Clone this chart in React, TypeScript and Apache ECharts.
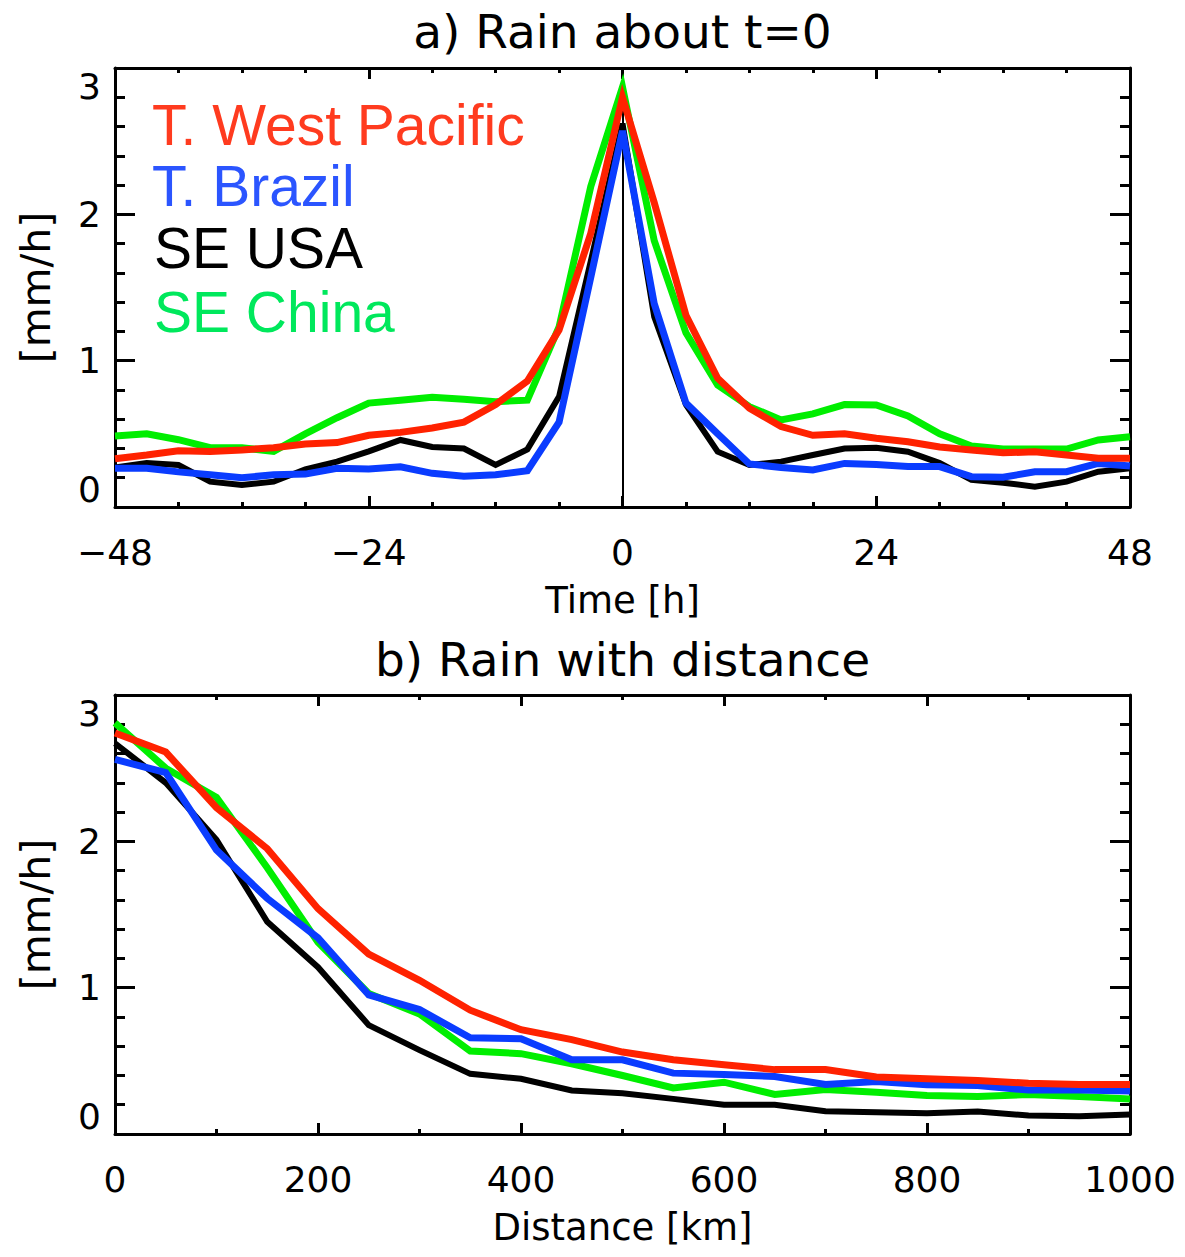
import React, { useEffect, useRef } from "react";
import * as echarts from "echarts";

// ---------- data ----------
const HOURS = [-48, -45, -42, -39, -36, -33, -30, -27, -24, -21, -18, -15, -12, -9, -6, -3, 0, 3, 6, 9, 12, 15, 18, 21, 24, 27, 30, 33, 36, 39, 42, 45, 48];

const TIME_WEST_PACIFIC = [0.33, 0.355, 0.385, 0.38, 0.39, 0.405, 0.43, 0.44, 0.49, 0.51, 0.54, 0.58, 0.70, 0.86, 1.21, 1.87, 2.80, 2.08, 1.31, 0.88, 0.675, 0.55, 0.49, 0.50, 0.47, 0.446, 0.41, 0.39, 0.37, 0.378, 0.355, 0.333, 0.333];
const TIME_BRAZIL = [0.265, 0.265, 0.24, 0.22, 0.20, 0.22, 0.225, 0.265, 0.26, 0.275, 0.23, 0.21, 0.22, 0.248, 0.58, 1.57, 2.57, 1.39, 0.71, 0.50, 0.294, 0.27, 0.253, 0.298, 0.29, 0.276, 0.276, 0.207, 0.203, 0.241, 0.241, 0.298, 0.28];
const TIME_SE_USA = [0.27, 0.30, 0.287, 0.173, 0.15, 0.173, 0.258, 0.31, 0.38, 0.458, 0.41, 0.40, 0.287, 0.394, 0.754, 1.68, 2.62, 1.30, 0.70, 0.378, 0.287, 0.31, 0.355, 0.40, 0.405, 0.378, 0.30, 0.185, 0.166, 0.139, 0.173, 0.241, 0.264];
const TIME_SE_CHINA = [0.485, 0.50, 0.46, 0.405, 0.405, 0.38, 0.50, 0.61, 0.71, 0.73, 0.75, 0.736, 0.72, 0.73, 1.23, 2.19, 2.87, 1.82, 1.19, 0.834, 0.686, 0.595, 0.636, 0.70, 0.697, 0.622, 0.50, 0.417, 0.396, 0.396, 0.396, 0.458, 0.48];

const DIST_KM = [0, 50, 100, 150, 200, 250, 300, 350, 400, 450, 500, 550, 600, 650, 700, 750, 800, 850, 900, 950, 1000];

const DIST_WEST_PACIFIC = [2.74, 2.61, 2.23, 1.95, 1.54, 1.23, 1.05, 0.846, 0.713, 0.645, 0.56, 0.507, 0.473, 0.44, 0.44, 0.389, 0.377, 0.366, 0.347, 0.338, 0.338];
const DIST_BRAZIL = [2.56, 2.47, 1.94, 1.61, 1.34, 0.95, 0.85, 0.658, 0.651, 0.507, 0.507, 0.416, 0.407, 0.393, 0.338, 0.359, 0.336, 0.331, 0.30, 0.30, 0.293];
const DIST_SE_USA = [2.67, 2.40, 2.01, 1.45, 1.14, 0.744, 0.573, 0.411, 0.377, 0.297, 0.279, 0.24, 0.20, 0.20, 0.155, 0.149, 0.142, 0.153, 0.126, 0.121, 0.133];
const DIST_SE_CHINA = [2.81, 2.50, 2.30, 1.82, 1.31, 0.96, 0.82, 0.567, 0.549, 0.48, 0.40, 0.315, 0.354, 0.27, 0.304, 0.286, 0.263, 0.256, 0.27, 0.256, 0.24];

const REGION_NAMES = ["T. West Pacific", "T. Brazil", "SE USA", "SE China"];
const LINE_COLORS = ["#ff2200", "#0a3cff", "#000000", "#00ee00"];
const TEXT_COLORS = ["#ff3b1f", "#2b55ff", "#000000", "#00e85c"];

const TITLE_A = "a) Rain about t=0";
const TITLE_B = "b) Rain with distance";
const X_NAME_A = "Time [h]";
const X_NAME_B = "Distance [km]";
const Y_NAME = "[mm/h]";

// ---------- styling helpers ----------
const FONT = "DejaVu Sans";
const LEGEND_FONT = "Liberation Sans";
const BLACK = "#000";

const GRID_LEFT = 115;
const GRID_W = 1015;
const GRID_H = 439;
const GRID_A_TOP = 68;
const GRID_B_TOP = 695;

function pairs(xs: number[], ys: number[]) {
  return xs.map((x, i) => [x, ys[i]]);
}

function fmtX(v: number) {
  return v < 0 ? "\u2212" + Math.abs(v) : String(v);
}

function xAxis(gridIndex: number, min: number, max: number, interval: number, minorSplit: number, position: "top" | "bottom", labels: boolean) {
  return {
    type: "value",
    gridIndex,
    position,
    min,
    max,
    interval,
    axisLine: { show: true, onZero: false, lineStyle: { color: BLACK, width: 3 } },
    axisTick: { show: true, inside: true, length: 11, lineStyle: { color: BLACK, width: 3 } },
    minorTick: { show: true, splitNumber: minorSplit, length: 5, lineStyle: { color: BLACK, width: 3 } },
    splitLine: { show: false },
    minorSplitLine: { show: false },
    axisLabel: {
      show: labels,
      formatter: fmtX,
      fontSize: 36,
      fontFamily: FONT,
      color: BLACK,
      margin: 27,
    },
  };
}

function yAxis(gridIndex: number, position: "left" | "right", labels: boolean) {
  return {
    type: "value",
    gridIndex,
    position,
    min: 0,
    max: 3,
    interval: 1,
    axisLine: { show: true, onZero: false, lineStyle: { color: BLACK, width: 3 } },
    axisTick: { show: true, inside: true, length: 20, lineStyle: { color: BLACK, width: 3 } },
    minorTick: { show: true, splitNumber: 5, length: 10, lineStyle: { color: BLACK, width: 3 } },
    splitLine: { show: false },
    minorSplitLine: { show: false },
    axisLabel: {
      show: labels,
      fontSize: 36,
      fontFamily: FONT,
      color: BLACK,
      margin: 14,
      verticalAlignMinLabel: "bottom",
      verticalAlignMaxLabel: "top",
    },
  };
}

function lineSeries(name: string, xIdx: number, yIdx: number, data: number[][], color: string, width: number, extra: any = {}) {
  return {
    name,
    type: "line",
    xAxisIndex: xIdx,
    yAxisIndex: yIdx,
    data,
    showSymbol: false,
    symbol: "none",
    lineStyle: { color, width, cap: "butt", join: "miter" },
    itemStyle: { color },
    emphasis: { disabled: true },
    silent: true,
    ...extra,
  };
}

function text(x: number, y: number, str: string, size: number, family: string, color: string, align = "center", rotation = 0) {
  return {
    type: "text",
    x,
    y,
    rotation,
    silent: true,
    style: {
      text: str,
      fontSize: size,
      fontFamily: family,
      fill: color,
      align,
      verticalAlign: "middle",
    },
  };
}

export default function App() {
  const ref = useRef<HTMLDivElement>(null);

  useEffect(() => {
    if (!ref.current) return;
    const chart = echarts.init(ref.current, undefined, { renderer: "svg" });

    // draw order: SE USA, SE China, T. Brazil, T. West Pacific (top)
    const timeSets = [TIME_WEST_PACIFIC, TIME_BRAZIL, TIME_SE_USA, TIME_SE_CHINA];
    const distSets = [DIST_WEST_PACIFIC, DIST_BRAZIL, DIST_SE_USA, DIST_SE_CHINA];
    const order = [2, 3, 1, 0];

    const seriesA = order.map((k, i) =>
      lineSeries(REGION_NAMES[k], 0, 0, pairs(HOURS, timeSets[k]), LINE_COLORS[k], k === 2 ? 6 : 7,
        i === 0
          ? {
              markLine: {
                silent: true,
                symbol: "none",
                label: { show: false },
                lineStyle: { color: BLACK, width: 2, type: "solid" },
                emphasis: { disabled: true },
                data: [{ xAxis: 0 }],
                z: 1,
              },
            }
          : {}
      )
    );
    const seriesB = order.map((k) =>
      lineSeries(REGION_NAMES[k], 2, 2, pairs(DIST_KM, distSets[k]), LINE_COLORS[k], k === 2 ? 6 : 7)
    );

    const legendY = [125, 186, 248, 312];
    const legendTexts = REGION_NAMES.map((n, k) => text(k >= 2 ? 154 : 152, legendY[k], n, 57, LEGEND_FONT, TEXT_COLORS[k], "left"));

    const plotCx = GRID_LEFT + GRID_W / 2;

    chart.setOption({
      animation: false,
      backgroundColor: "#ffffff",
      grid: [
        { left: GRID_LEFT, top: GRID_A_TOP, width: GRID_W, height: GRID_H },
        { left: GRID_LEFT, top: GRID_B_TOP, width: GRID_W, height: GRID_H },
      ],
      xAxis: [
        xAxis(0, -48, 48, 24, 4, "bottom", true),
        xAxis(0, -48, 48, 24, 4, "top", false),
        xAxis(1, 0, 1000, 200, 2, "bottom", true),
        xAxis(1, 0, 1000, 200, 2, "top", false),
      ],
      yAxis: [yAxis(0, "left", true), yAxis(0, "right", false), yAxis(1, "left", true), yAxis(1, "right", false)],
      series: [...seriesA, ...seriesB],
      graphic: [
        text(plotCx, 31, TITLE_A, 47, FONT, BLACK),
        text(plotCx, 659, TITLE_B, 47, FONT, BLACK),
        text(plotCx, 600, X_NAME_A, 37, FONT, BLACK),
        text(plotCx, 1227, X_NAME_B, 37, FONT, BLACK),
        text(36, GRID_A_TOP + GRID_H / 2, Y_NAME, 41, FONT, BLACK, "center", Math.PI / 2),
        text(36, GRID_B_TOP + GRID_H / 2, Y_NAME, 41, FONT, BLACK, "center", Math.PI / 2),
        ...legendTexts,
      ],
    });

    return () => chart.dispose();
  }, []);

  return (
    <div
      ref={ref}
      style={{ position: "absolute", left: 0, top: 0, width: 1185, height: 1257, background: "#fff" }}
    />
  );
}
